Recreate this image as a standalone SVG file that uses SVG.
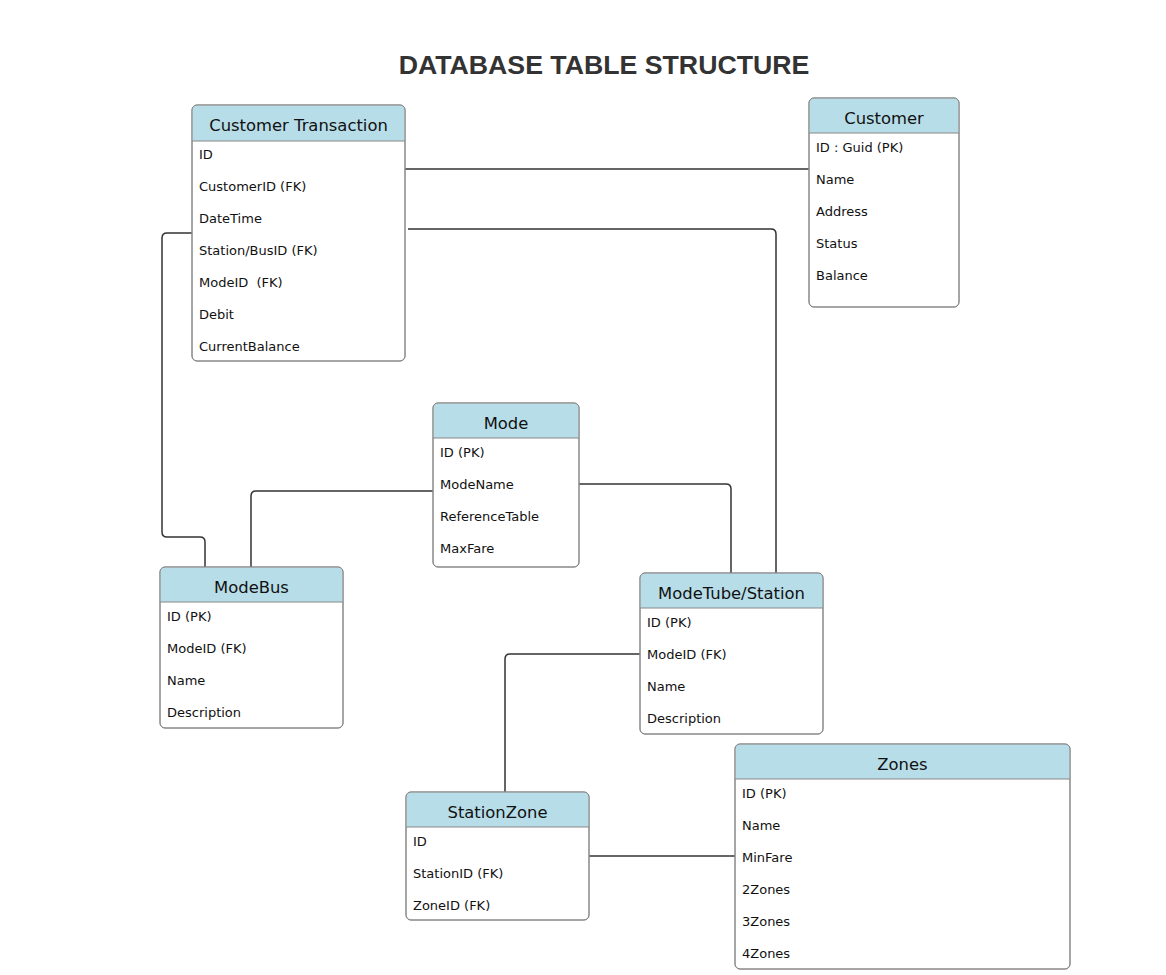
<svg xmlns="http://www.w3.org/2000/svg" width="1166" height="975" viewBox="0 0 1166 975">
<style>
.box{fill:#fff;stroke:#888;stroke-width:1}
.hdr{fill:#b7dde8}
.sep{stroke:#888;stroke-width:1}
.ht{font-family:"DejaVu Sans",Verdana,sans-serif;font-size:16.4px;fill:#111;text-anchor:middle}
.rt{font-family:"DejaVu Sans",Verdana,sans-serif;font-size:13px;fill:#111;white-space:pre}
.title{font-family:"Liberation Sans",Arial,sans-serif;font-size:26.7px;font-weight:bold;fill:#333;text-anchor:middle}
.cn{fill:none;stroke:#333;stroke-width:1.5}
</style>
<rect width="1166" height="975" fill="#fff"/>
<text class="title" x="604" y="74">DATABASE TABLE STRUCTURE</text>

<g id="connectors">
<path class="cn" d="M405,169 H809"/>
<path class="cn" d="M408,229 H771 Q776,229 776,234 V573"/>
<path class="cn" d="M192,233 H167 Q162,233 162,238 V532 Q162,537 167,537 H200 Q205,537 205,542 V567"/>
<path class="cn" d="M433,491 H256 Q251,491 251,496 V567"/>
<path class="cn" d="M579,484 H726 Q731,484 731,489 V573"/>
<path class="cn" d="M640,654 H510 Q505,654 505,659 V792"/>
<path class="cn" d="M589,856 H735"/>
</g>

<g id="customer-transaction">
<rect class="box" x="192" y="105" width="213" height="256" rx="5"/>
<path class="hdr" d="M197,105.5 H400 Q404.5,105.5 404.5,110 V141 H192.5 V110 Q192.5,105.5 197,105.5 Z"/>
<rect x="192" y="105" width="213" height="256" rx="5" fill="none" stroke="#888"/>
<line class="sep" x1="192" y1="141" x2="405" y2="141"/>
<text class="ht" x="298.5" y="131">Customer Transaction</text>
<text class="rt" x="199" y="159">ID</text>
<text class="rt" x="199" y="191">CustomerID (FK)</text>
<text class="rt" x="199" y="223">DateTime</text>
<text class="rt" x="199" y="255">Station/BusID (FK)</text>
<text class="rt" x="199" y="287" xml:space="preserve">ModeID  (FK)</text>
<text class="rt" x="199" y="319">Debit</text>
<text class="rt" x="199" y="351">CurrentBalance</text>
</g>

<g id="customer">
<rect class="box" x="809" y="98" width="150" height="209" rx="5"/>
<path class="hdr" d="M814,98.5 H954 Q958.5,98.5 958.5,103 V133 H809.5 V103 Q809.5,98.5 814,98.5 Z"/>
<rect x="809" y="98" width="150" height="209" rx="5" fill="none" stroke="#888"/>
<line class="sep" x1="809" y1="133" x2="959" y2="133"/>
<text class="ht" x="884" y="124">Customer</text>
<text class="rt" x="816" y="152">ID : Guid (PK)</text>
<text class="rt" x="816" y="184">Name</text>
<text class="rt" x="816" y="216">Address</text>
<text class="rt" x="816" y="248">Status</text>
<text class="rt" x="816" y="280">Balance</text>
</g>

<g id="mode">
<rect class="box" x="433" y="403" width="146" height="164" rx="5"/>
<path class="hdr" d="M438,403.5 H574 Q578.5,403.5 578.5,408 V438 H433.5 V408 Q433.5,403.5 438,403.5 Z"/>
<rect x="433" y="403" width="146" height="164" rx="5" fill="none" stroke="#888"/>
<line class="sep" x1="433" y1="438" x2="579" y2="438"/>
<text class="ht" x="506" y="429">Mode</text>
<text class="rt" x="440" y="457">ID (PK)</text>
<text class="rt" x="440" y="489">ModeName</text>
<text class="rt" x="440" y="521">ReferenceTable</text>
<text class="rt" x="440" y="553">MaxFare</text>
</g>

<g id="modebus">
<rect class="box" x="160" y="567" width="183" height="161" rx="5"/>
<path class="hdr" d="M165,567.5 H338 Q342.5,567.5 342.5,572 V602 H160.5 V572 Q160.5,567.5 165,567.5 Z"/>
<rect x="160" y="567" width="183" height="161" rx="5" fill="none" stroke="#888"/>
<line class="sep" x1="160" y1="602" x2="343" y2="602"/>
<text class="ht" x="251.5" y="593">ModeBus</text>
<text class="rt" x="167" y="621">ID (PK)</text>
<text class="rt" x="167" y="653">ModeID (FK)</text>
<text class="rt" x="167" y="685">Name</text>
<text class="rt" x="167" y="717">Description</text>
</g>

<g id="modetube-station">
<rect class="box" x="640" y="573" width="183" height="161" rx="5"/>
<path class="hdr" d="M645,573.5 H818 Q822.5,573.5 822.5,578 V608 H640.5 V578 Q640.5,573.5 645,573.5 Z"/>
<rect x="640" y="573" width="183" height="161" rx="5" fill="none" stroke="#888"/>
<line class="sep" x1="640" y1="608" x2="823" y2="608"/>
<text class="ht" x="731.5" y="599">ModeTube/Station</text>
<text class="rt" x="647" y="627">ID (PK)</text>
<text class="rt" x="647" y="659">ModeID (FK)</text>
<text class="rt" x="647" y="691">Name</text>
<text class="rt" x="647" y="723">Description</text>
</g>

<g id="zones">
<rect class="box" x="735" y="744" width="335" height="225" rx="5"/>
<path class="hdr" d="M740,744.5 H1065 Q1069.5,744.5 1069.5,749 V779 H735.5 V749 Q735.5,744.5 740,744.5 Z"/>
<rect x="735" y="744" width="335" height="225" rx="5" fill="none" stroke="#888"/>
<line class="sep" x1="735" y1="779" x2="1070" y2="779"/>
<text class="ht" x="902.5" y="770">Zones</text>
<text class="rt" x="742" y="798">ID (PK)</text>
<text class="rt" x="742" y="830">Name</text>
<text class="rt" x="742" y="862">MinFare</text>
<text class="rt" x="742" y="894">2Zones</text>
<text class="rt" x="742" y="926">3Zones</text>
<text class="rt" x="742" y="958">4Zones</text>
</g>

<g id="stationzone">
<rect class="box" x="406" y="792" width="183" height="128" rx="5"/>
<path class="hdr" d="M411,792.5 H584 Q588.5,792.5 588.5,797 V827 H406.5 V797 Q406.5,792.5 411,792.5 Z"/>
<rect x="406" y="792" width="183" height="128" rx="5" fill="none" stroke="#888"/>
<line class="sep" x1="406" y1="827" x2="589" y2="827"/>
<text class="ht" x="497.5" y="818">StationZone</text>
<text class="rt" x="413" y="846">ID</text>
<text class="rt" x="413" y="878">StationID (FK)</text>
<text class="rt" x="413" y="910">ZoneID (FK)</text>
</g>
</svg>
